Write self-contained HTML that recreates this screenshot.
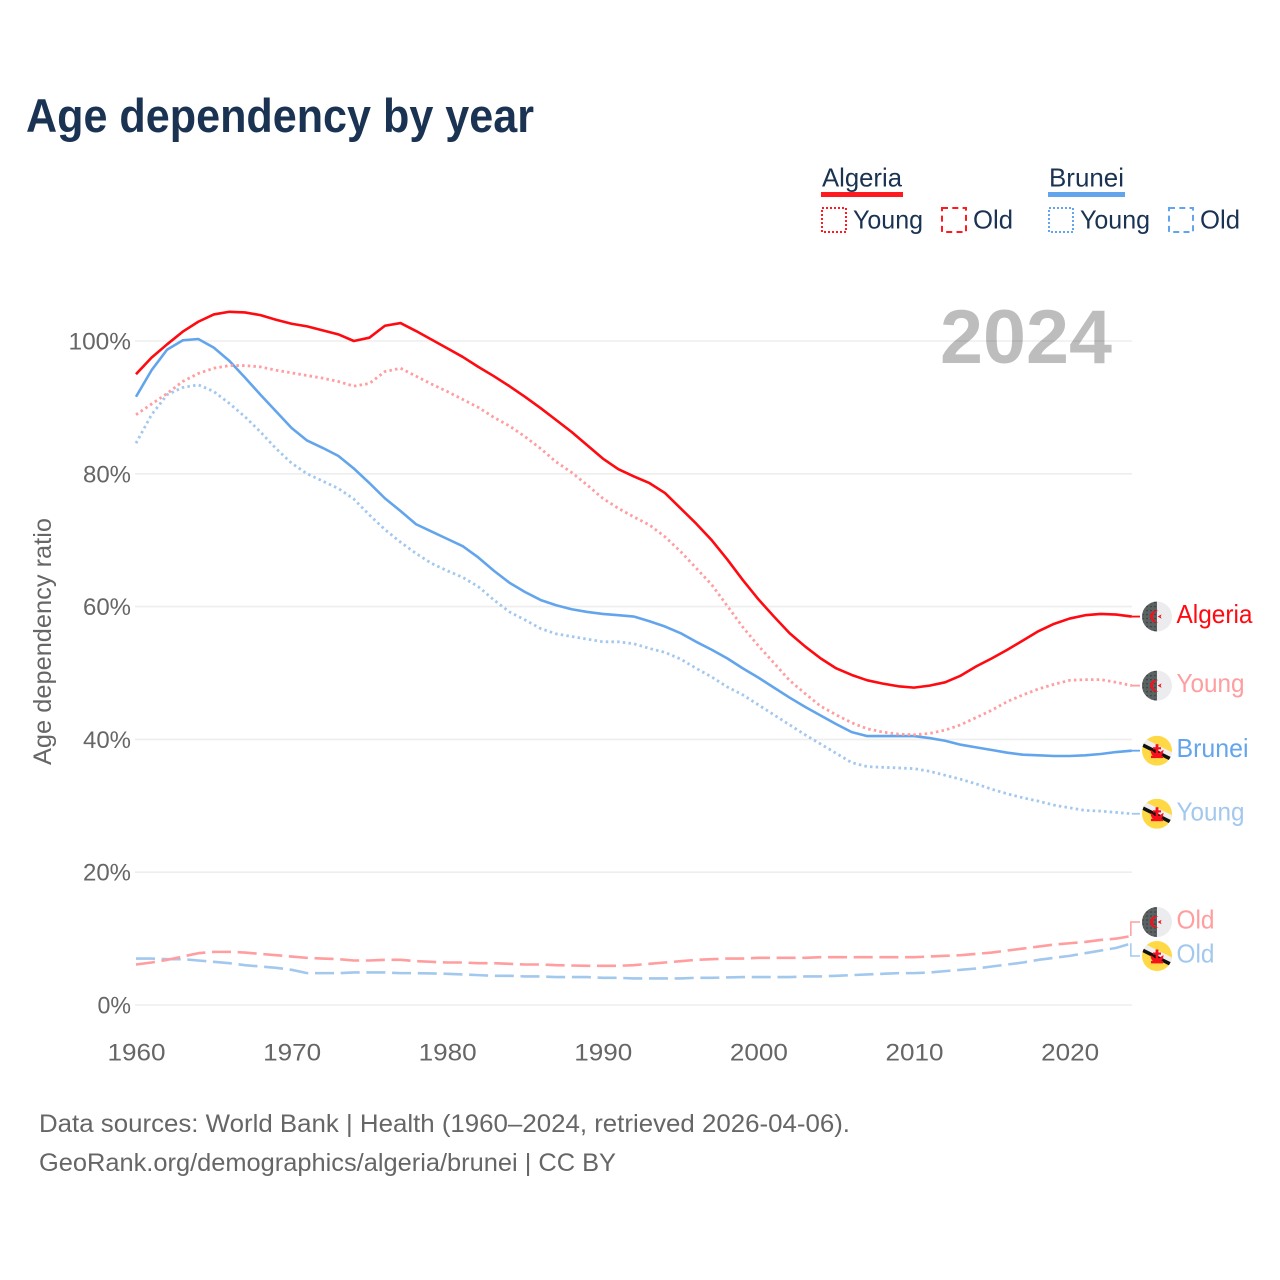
<!DOCTYPE html>
<html lang="en">
<head>
<meta charset="utf-8">
<title>Age dependency by year</title>
<style>
html,body{margin:0;padding:0;background:#fff;}
svg{display:block;font-family:"Liberation Sans",sans-serif;}
</style>
</head>
<body>
<svg id="chart" xmlns="http://www.w3.org/2000/svg" width="1280" height="1280" viewBox="0 0 1280 1280">
  <defs>
    <pattern id="flag-dots" width="4" height="4" patternUnits="userSpaceOnUse">
      <rect width="4" height="4" fill="#5b6262"/>
      <circle cx="2" cy="2" r="0.8" fill="#33393b"/>
    </pattern>
    <clipPath id="flag-clip"><circle cx="0" cy="0" r="15"/></clipPath>
    <symbol id="flag-algeria" viewBox="-15 -15 30 30" width="30" height="30">
      <g clip-path="url(#flag-clip)">
        <rect x="-15" y="-15" width="30" height="30" fill="#ececee"/>
        <rect x="-15" y="-15" width="15" height="30" fill="url(#flag-dots)"/>
        <path d="M1.5 -5.5A6 6 0 1 0 1.5 5.5A4.8 4.8 0 1 1 1.5 -5.5Z" fill="#f5101c"/>
        <polygon points="0.6,0 4.6,-2.2 3.6,0 4.6,2.2" fill="#f5101c"/>
      </g>
    </symbol>
    <symbol id="flag-brunei" viewBox="-15 -15 30 30" width="30" height="30">
      <g clip-path="url(#flag-clip)">
        <rect x="-15" y="-15" width="30" height="30" fill="#ffd945"/>
        <polygon points="-16,-9 -16,-4.6 16,11.4 16,7" fill="#111"/>
        <polygon points="-16,-14 -16,-8.6 16,7.4 16,2" fill="#efeef0"/>
        <rect x="-1.4" y="-6.5" width="2.8" height="13" fill="#f5101c"/>
        <rect x="-4" y="-3.5" width="8" height="2.2" fill="#f5101c"/>
        <path d="M-6.5 -1 Q-6 6.5 0 6.5 Q6 6.5 6.5 -1 L3.5 1 Q3 2.5 0 2.5 Q-3 2.5 -3.5 1Z" fill="#f5101c"/>
        <rect x="-6" y="5" width="12" height="2.4" fill="#f5101c"/>
      </g>
    </symbol>
  </defs>

  <text x="26" y="132" font-size="47" font-weight="700" fill="#1a3353" textLength="508" lengthAdjust="spacingAndGlyphs">Age dependency by year</text>

  <g fill="#1a3353" font-size="26">
    <text x="822" y="186.5" textLength="80" lengthAdjust="spacingAndGlyphs">Algeria</text>
    <rect x="821" y="192" width="82" height="5" fill="#ff1a1f"/>
    <rect x="822" y="208" width="24" height="24" fill="none" stroke="#ff1a1f" stroke-width="2" stroke-dasharray="2 2"/>
    <text x="853" y="228.5" textLength="70" lengthAdjust="spacingAndGlyphs">Young</text>
    <rect x="942" y="208" width="24" height="24" fill="none" stroke="#ff1a1f" stroke-width="2" stroke-dasharray="6 4.3"/>
    <text x="973" y="228.5" textLength="40" lengthAdjust="spacingAndGlyphs">Old</text>

    <text x="1049" y="186.5" textLength="75" lengthAdjust="spacingAndGlyphs">Brunei</text>
    <rect x="1048" y="192" width="77" height="5" fill="#63a5ec"/>
    <rect x="1049" y="208" width="24" height="24" fill="none" stroke="#63a5ec" stroke-width="2" stroke-dasharray="2 2"/>
    <text x="1080" y="228.5" textLength="70" lengthAdjust="spacingAndGlyphs">Young</text>
    <rect x="1169" y="208" width="24" height="24" fill="none" stroke="#63a5ec" stroke-width="2" stroke-dasharray="6 4.3"/>
    <text x="1200" y="228.5" textLength="40" lengthAdjust="spacingAndGlyphs">Old</text>
  </g>

  <text transform="translate(51,765) rotate(-90)" font-size="25" fill="#666" textLength="247" lengthAdjust="spacingAndGlyphs">Age dependency ratio</text>

  <g id="grid"></g>
  <g id="y-ticks"></g>
  <g id="x-ticks"></g>

  <text x="940" y="363" font-size="76" font-weight="700" fill="#000" fill-opacity="0.26" textLength="172" lengthAdjust="spacingAndGlyphs">2024</text>

  <g id="series"></g>
  <g id="end-labels"></g>

  <text x="39" y="1132" font-size="25" fill="#666" textLength="811" lengthAdjust="spacingAndGlyphs">Data sources: World Bank | Health (1960–2024, retrieved 2026-04-06).</text>
  <text x="39" y="1171" font-size="25" fill="#666" textLength="577" lengthAdjust="spacingAndGlyphs">GeoRank.org/demographics/algeria/brunei | CC BY</text>
</svg>

<script>
const startYear = 1960;
const xTickLabels = [1960, 1970, 1980, 1990, 2000, 2010, 2020];
const yTickLabels = [0, 20, 40, 60, 80, 100];

const algeriaTotal = [95.0,97.5,99.5,101.4,102.9,104.0,104.4,104.3,103.9,103.2,102.6,102.2,101.6,101.0,100.0,100.5,102.3,102.7,101.5,100.2,98.9,97.6,96.1,94.7,93.2,91.6,89.9,88.1,86.3,84.3,82.3,80.7,79.6,78.6,77.1,74.8,72.5,70.0,67.1,64.0,61.1,58.5,56.0,54.0,52.2,50.7,49.7,48.9,48.4,48.0,47.8,48.1,48.6,49.6,51.0,52.2,53.5,54.9,56.3,57.4,58.2,58.7,58.9,58.8,58.5];
const algeriaYoung = [88.9,90.5,92.1,93.9,95.1,95.9,96.3,96.3,96.1,95.6,95.2,94.8,94.4,93.9,93.2,93.6,95.4,95.9,94.7,93.5,92.4,91.2,90.0,88.5,87.2,85.6,83.8,81.8,80.2,78.3,76.3,74.8,73.5,72.3,70.5,68.3,65.8,63.3,60.1,56.9,54.1,51.5,48.9,46.9,45.0,43.7,42.5,41.6,41.1,40.8,40.7,40.9,41.4,42.2,43.3,44.4,45.7,46.7,47.6,48.3,48.9,49.0,49.0,48.6,48.1];
const algeriaOld = [6.1,6.4,6.8,7.3,7.8,8.0,8.0,7.9,7.7,7.5,7.3,7.1,7.0,6.9,6.7,6.7,6.8,6.8,6.6,6.5,6.4,6.4,6.3,6.3,6.2,6.1,6.1,6.0,5.95,5.9,5.9,5.9,6.0,6.2,6.4,6.6,6.8,6.9,7.0,7.0,7.1,7.1,7.1,7.1,7.2,7.2,7.2,7.2,7.2,7.2,7.2,7.3,7.4,7.5,7.7,7.9,8.2,8.5,8.8,9.1,9.3,9.5,9.8,10.0,10.4];
const bruneiTotal = [91.6,95.6,98.7,100.1,100.3,99.0,97.0,94.5,91.9,89.4,86.9,85.0,83.9,82.7,80.8,78.6,76.3,74.4,72.4,71.3,70.2,69.1,67.4,65.4,63.6,62.2,61.0,60.2,59.6,59.2,58.9,58.7,58.5,57.8,57.0,56.0,54.7,53.5,52.2,50.7,49.3,47.8,46.3,44.9,43.6,42.3,41.1,40.5,40.5,40.5,40.5,40.2,39.8,39.2,38.8,38.4,38.0,37.7,37.6,37.5,37.5,37.6,37.8,38.1,38.3];
const bruneiYoung = [84.6,88.9,91.9,93.0,93.4,92.4,90.6,88.6,86.3,83.8,81.6,80.0,78.9,77.8,76.2,73.8,71.6,69.7,68.0,66.5,65.4,64.4,63.0,61.0,59.2,58.0,56.7,55.9,55.5,55.1,54.7,54.7,54.4,53.7,53.1,52.1,50.7,49.4,47.9,46.7,45.2,43.7,42.2,40.7,39.3,37.9,36.5,35.9,35.8,35.7,35.6,35.2,34.6,34.0,33.3,32.5,31.8,31.2,30.7,30.1,29.7,29.3,29.2,29.0,28.8];
const bruneiOld = [7.0,7.0,6.9,6.9,6.7,6.5,6.3,6.0,5.8,5.6,5.3,4.8,4.8,4.8,4.9,4.9,4.9,4.8,4.8,4.75,4.7,4.6,4.5,4.4,4.4,4.3,4.3,4.2,4.2,4.2,4.1,4.1,4.0,4.0,4.0,4.0,4.1,4.1,4.15,4.2,4.2,4.2,4.2,4.3,4.3,4.4,4.5,4.6,4.7,4.8,4.8,4.9,5.1,5.3,5.5,5.8,6.1,6.4,6.8,7.1,7.4,7.8,8.2,8.6,9.3];

const NS = 'http://www.w3.org/2000/svg';
function xScale(year) { return 136 + (year - startYear) * 15.56; }
function yScale(value) { return 1005 - value * 6.64; }
function make(tag, attrs, parent, text) {
  const el = document.createElementNS(NS, tag);
  for (const k in attrs) el.setAttribute(k, attrs[k]);
  if (text !== undefined) el.textContent = text;
  parent.appendChild(el);
  return el;
}

const gridG = document.getElementById('grid');
const yG = document.getElementById('y-ticks');
yTickLabels.forEach(function (v) {
  const line = make('line', {x1: 135, x2: 1132, y1: yScale(v), y2: yScale(v), stroke: '#eeeeee', 'stroke-width': 1.6}, gridG);
  
  
  const label = v + '%';
  const w = String(v).length * 14.5 + 19;
  const t = make('text', {x: 131 - w, y: yScale(v) + 8.5, 'font-size': 24, fill: '#666', textLength: w, lengthAdjust: 'spacingAndGlyphs'}, yG, label);
  
  
});

const xG = document.getElementById('x-ticks');
xTickLabels.forEach(function (yr) {
  const t = make('text', {x: xScale(yr) - 28.5, y: 1060.5, 'font-size': 24, fill: '#666', textLength: 58, lengthAdjust: 'spacingAndGlyphs'}, xG, String(yr));
  
  
});

const RED = '#ff0a10', BLUE = '#63a5ec', PINK = '#ff9d9f', SKY = '#a3c8ee';
const DOT = '2.5 3.2', DASH = '19 6.7';
const seriesDefs = [
  {name: 'brunei-old',    values: bruneiOld,    color: SKY,  dash: DASH, label: 'Old',     flag: 'flag-brunei',  labelW: 38, elbow: 956},
  {name: 'algeria-old',   values: algeriaOld,   color: PINK, dash: DASH, label: 'Old',     flag: 'flag-algeria', labelW: 38, elbow: 922},
  {name: 'brunei-young',  values: bruneiYoung,  color: SKY,  dash: DOT,  label: 'Young',   flag: 'flag-brunei',  labelW: 68},
  {name: 'brunei-total',  values: bruneiTotal,  color: BLUE, dash: null, label: 'Brunei',  flag: 'flag-brunei',  labelW: 72},
  {name: 'algeria-young', values: algeriaYoung, color: PINK, dash: DOT,  label: 'Young',   flag: 'flag-algeria', labelW: 68},
  {name: 'algeria-total', values: algeriaTotal, color: RED,  dash: null, label: 'Algeria', flag: 'flag-algeria', labelW: 76}
];

const seriesG = document.getElementById('series');
const labelG = document.getElementById('end-labels');
seriesDefs.forEach(function (s) {
  const pts = s.values.map(function (v, i) {
    return xScale(startYear + i).toFixed(2) + ',' + yScale(v).toFixed(2);
  }).join(' ');
  const attrs = {points: pts, fill: 'none', stroke: s.color, 'stroke-width': s.dash === DOT ? 2.8 : 2.6, 'stroke-linejoin': 'round'};
  if (s.dash) attrs['stroke-dasharray'] = s.dash;
  const line = make('polyline', attrs, seriesG);
  
  

  const lastV = s.values[s.values.length - 1];
  const endX = xScale(startYear + s.values.length - 1);
  const endY = yScale(lastV);
  const flagY = s.elbow !== undefined ? s.elbow : endY;
  const leaderPts = s.elbow !== undefined
    ? [endX - 1, endY, endX - 1, flagY, 1140, flagY].join(',')
    : [endX, endY, 1140, flagY].join(',');
  const leader = make('polyline', {points: leaderPts, fill: 'none', stroke: s.color, 'stroke-width': s.elbow !== undefined ? 1.5 : 1.8}, labelG);
  
  

  const flag = make('use', {href: '#' + s.flag, x: 1142, y: flagY - 15, width: 30, height: 30}, labelG);
  
  

  const text = make('text', {x: 1176.5, y: flagY + 6.5, 'font-size': 26, fill: s.color, textLength: s.labelW, lengthAdjust: 'spacingAndGlyphs'}, labelG, s.label);
  
  
});
</script>
</body>
</html>
